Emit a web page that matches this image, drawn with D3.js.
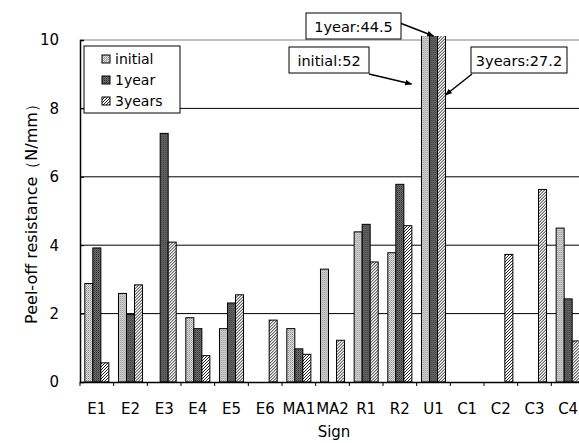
<!DOCTYPE html>
<html>
<head>
<meta charset="utf-8">
<script src="https://cdn.jsdelivr.net/npm/d3@7"></script>
<style>
  body { margin: 0; background: #fff; }
  svg { display: block; }
  text { font-family: "DejaVu Sans", sans-serif; fill: #000; }
</style>
</head>
<body>
<div id="chart"></div>
<script>
// data (null = no bar)
var signs = ["E1", "E2", "E3", "E4", "E5", "E6", "MA1", "MA2", "R1", "R2", "U1", "C1", "C2", "C3", "C4"];
var seriesNames = ["initial", "1year", "3years"];
var initialVals = [2.88, 2.59, null, 1.88, 1.56, null, 1.56, 3.30, 4.39, 3.78, 52, null, null, null, 4.50];
var year1Vals = [3.92, 1.97, 7.27, 1.56, 2.31, null, 0.97, null, 4.61, 5.78, 44.5, null, null, null, 2.43];
var year3Vals = [0.56, 2.84, 4.09, 0.77, 2.55, 1.81, 0.81, 1.22, 3.51, 4.57, 27.2, null, 3.73, 5.63, 1.20];
var yTicks = [0, 2, 4, 6, 8, 10];
var callouts = [
  { text: "1year:44.5", series: "1year" },
  { text: "initial:52", series: "initial" },
  { text: "3years:27.2", series: "3years" }
];

var width = 579, height = 443;
var margin = { top: 40, left: 80 };
var plotW = 505, plotH = 342;

var svg = d3.select("#chart").append("svg").attr("width", width).attr("height", height);
var defs = svg.append("defs");

// fill patterns like the old excel ones
var pInit = defs.append("pattern").attr("id", "pInit").attr("patternUnits", "userSpaceOnUse").attr("width", 2).attr("height", 2);
pInit.append("rect").attr("width", 2).attr("height", 2).attr("fill", "#e0e0e0");
pInit.append("rect").attr("width", 1).attr("height", 1).attr("fill", "#8a8a8a");
pInit.append("rect").attr("x", 1).attr("y", 1).attr("width", 1).attr("height", 1).attr("fill", "#b0b0b0");

var pYear = defs.append("pattern").attr("id", "pYear").attr("patternUnits", "userSpaceOnUse").attr("width", 2).attr("height", 2);
pYear.append("rect").attr("width", 2).attr("height", 2).attr("fill", "#707070");
pYear.append("rect").attr("width", 1).attr("height", 1).attr("fill", "#303030");
pYear.append("rect").attr("x", 1).attr("y", 1).attr("width", 1).attr("height", 1).attr("fill", "#505050");

var pHatch = defs.append("pattern").attr("id", "pHatch").attr("patternUnits", "userSpaceOnUse").attr("width", 3).attr("height", 3);
pHatch.append("rect").attr("width", 3).attr("height", 3).attr("fill", "#fff");
pHatch.append("path").attr("d", "M-1,4 L4,-1 M-1,1 L1,-1 M2,4 L4,2").attr("stroke", "#222").attr("stroke-width", 1);

var fills = { "initial": "url(#pInit)", "1year": "url(#pYear)", "3years": "url(#pHatch)" };

defs.append("clipPath").attr("id", "clip").append("rect")
  .attr("x", -2).attr("y", -4).attr("width", plotW + 4).attr("height", plotH + 4);

defs.append("marker").attr("id", "arrow").attr("viewBox", "0 0 10 10")
  .attr("refX", 9).attr("refY", 5).attr("markerWidth", 7).attr("markerHeight", 7)
  .attr("orient", "auto").attr("markerUnits", "userSpaceOnUse")
  .append("path").attr("d", "M0,1 L10,5 L0,9 z").attr("fill", "#000");

var g = svg.append("g").attr("transform", "translate(" + margin.left + "," + margin.top + ")");

var x0 = d3.scaleBand().domain(signs).range([0, plotW]);
var x1 = d3.scaleBand().domain(seriesNames).range([0, x0.bandwidth()]).paddingInner(0).paddingOuter(0.6);
var y = d3.scaleLinear().domain([0, 10]).range([plotH, 0]);

// gridlines
g.selectAll(".grid").data(yTicks.filter(function(d) { return d > 0; })).enter().append("line")
  .attr("x1", 0).attr("x2", plotW)
  .attr("y1", function(d) { return y(d); }).attr("y2", function(d) { return y(d); })
  .attr("stroke", function(d) { return d == 10 ? "#808080" : "#000"; })
  .attr("stroke-width", 1);

var data = signs.map(function(s, i) {
  return { sign: s, vals: [
    { key: "initial", v: initialVals[i] },
    { key: "1year", v: year1Vals[i] },
    { key: "3years", v: year3Vals[i] }
  ] };
});

var bars = g.append("g").attr("clip-path", "url(#clip)");
var grp = bars.selectAll(".grp").data(data).enter().append("g")
  .attr("transform", function(d) { return "translate(" + x0(d.sign) + ",0)"; });
grp.selectAll("rect").data(function(d) { return d.vals.filter(function(e) { return e.v != null; }); })
  .enter().append("rect")
  .attr("x", function(d) { return x1(d.key); })
  .attr("width", x1.bandwidth())
  .attr("y", function(d) { return y(d.v); })
  .attr("height", function(d) { return y(0) - y(d.v); })
  .attr("fill", function(d) { return fills[d.key]; })
  .attr("stroke", "#000").attr("stroke-width", 1);

// axes
var yAxis = g.append("g").call(d3.axisLeft(y).tickValues(yTicks).tickSize(-4).tickPadding(21).tickFormat(d3.format("d")));
yAxis.select(".domain").attr("stroke", "#000").attr("stroke-width", 1.5);
yAxis.selectAll("text").attr("font-size", 15).style("font-family", "DejaVu Sans");

var xAxis = g.append("g").attr("transform", "translate(0," + plotH + ")")
  .call(d3.axisBottom(x0).tickSize(0).tickPadding(21));
xAxis.select(".domain").attr("stroke", "#000").attr("stroke-width", 1.5);
xAxis.selectAll("text").attr("font-size", 15).style("font-family", "DejaVu Sans");
xAxis.selectAll(".bnd").data(signs).enter().append("line").attr("class", "bnd")
  .attr("x1", function(d) { return x0(d); }).attr("x2", function(d) { return x0(d); })
  .attr("y1", 0).attr("y2", 4).attr("stroke", "#000");

// axis titles
svg.append("text").attr("transform", "translate(37,210) rotate(-90)")
  .attr("text-anchor", "middle").attr("font-size", 16).text("Peel-off resistance（N/mm）");
svg.append("text").attr("x", 334).attr("y", 437)
  .attr("text-anchor", "middle").attr("font-size", 15).text("Sign");

// legend
var lg = g.append("g").attr("transform", "translate(4,6)");
lg.append("rect").attr("width", 96).attr("height", 67).attr("fill", "#fff").attr("stroke", "#000");
seriesNames.forEach(function(s, i) {
  var row = lg.append("g").attr("transform", "translate(18," + (9 + i * 21) + ")");
  row.append("rect").attr("width", 8).attr("height", 8).attr("fill", fills[s]).attr("stroke", "#000");
  row.append("text").attr("x", 13).attr("y", 9).attr("font-size", 14).text(s);
});

// callouts for the U1 bars that run off the top
var boxes = [
  { x: 226, y: -27, w: 95, h: 26, ax: 320, ay: -17 },
  { x: 209, y: 7, w: 80, h: 26, ax: 289, ay: 34 },
  { x: 391, y: 7, w: 96, h: 26, ax: 392, ay: 34 }
];
var u1 = x0("U1");
callouts.forEach(function(c, i) {
  var b = boxes[i];
  var bx = u1 + x1(c.series);
  var tx, ty;
  if (c.series == "1year") { tx = bx + x1.bandwidth() / 2; ty = -4; }
  else if (c.series == "initial") { tx = bx - 10; ty = 44; }
  else { tx = bx + x1.bandwidth(); ty = 55; }
  g.append("line").attr("x1", b.ax).attr("y1", b.ay).attr("x2", tx).attr("y2", ty)
    .attr("stroke", "#000").attr("stroke-width", 1.5).attr("marker-end", "url(#arrow)");
  g.append("rect").attr("x", b.x).attr("y", b.y).attr("width", b.w).attr("height", b.h)
    .attr("fill", "#fff").attr("stroke", "#000");
  g.append("text").attr("x", b.x + b.w / 2).attr("y", b.y + 19).attr("text-anchor", "middle")
    .attr("font-size", 14.5).text(c.text);
});
</script>
</body>
</html>
